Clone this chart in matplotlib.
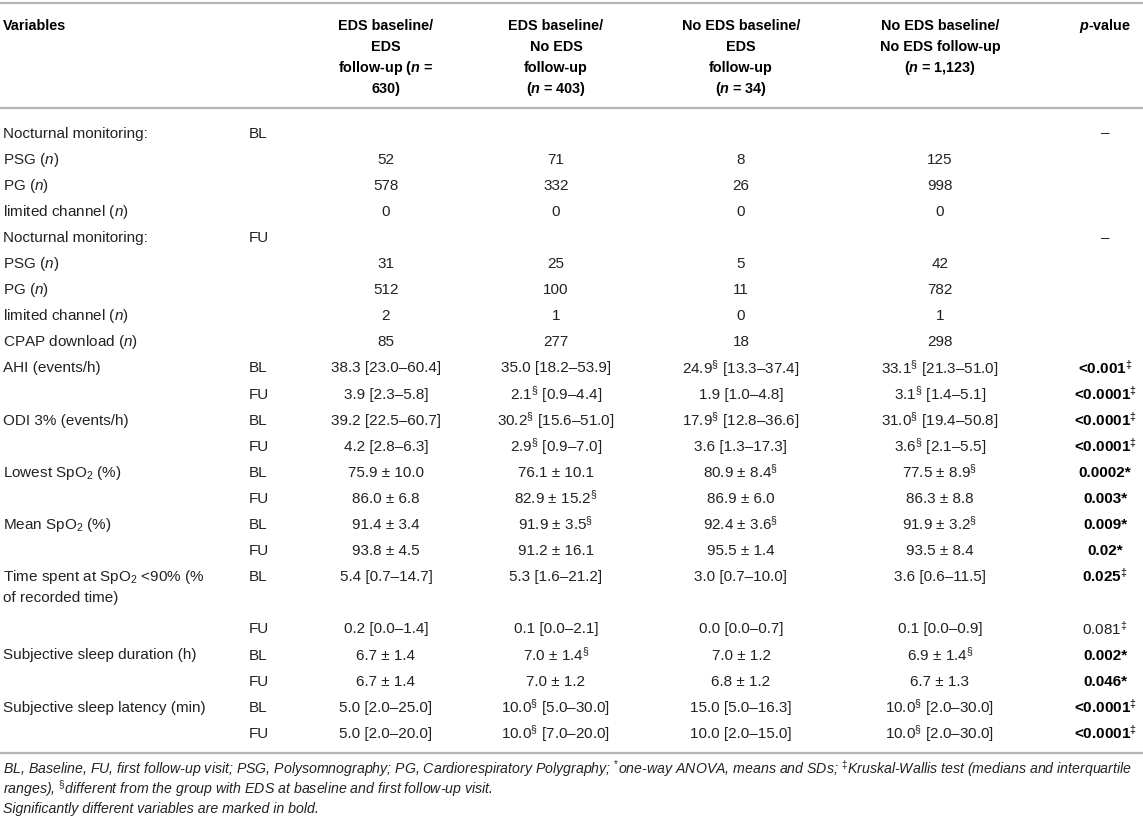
import matplotlib.pyplot as plt

plt.rcParams['font.family'] = ['Liberation Sans', 'DejaVu Sans']
plt.rcParams['mathtext.fontset'] = 'custom'
plt.rcParams['mathtext.rm'] = 'Liberation Sans'
plt.rcParams['mathtext.it'] = 'Liberation Sans:italic'
plt.rcParams['mathtext.bf'] = 'Liberation Sans:bold'
plt.rcParams['mathtext.bfit'] = 'Liberation Sans:italic:bold'

# --- table content ---
headers = [
    ["EDS baseline/", "EDS", r"follow-up ($\mathbfit{n}$ =", "630)"],
    ["EDS baseline/", "No EDS", "follow-up", r"($\mathbfit{n}$ = 403)"],
    ["No EDS baseline/", "EDS", "follow-up", r"($\mathbfit{n}$ = 34)"],
    ["No EDS baseline/", "No EDS follow-up", r"($\mathbfit{n}$ = 1,123)"],
]

variables = [
    "Nocturnal monitoring:", r"PSG ($n$)", r"PG ($n$)", r"limited channel ($n$)",
    "Nocturnal monitoring:", r"PSG ($n$)", r"PG ($n$)", r"limited channel ($n$)",
    r"CPAP download ($n$)",
    "AHI (events/h)", "",
    "ODI 3% (events/h)", "",
    r"Lowest SpO$_2$ (%)", "",
    r"Mean SpO$_2$ (%)", "",
    r"Time spent at SpO$_2$ <90% (%" + "\n" + "of recorded time)", "",
    "Subjective sleep duration (h)", "",
    "Subjective sleep latency (min)", "",
]

visit = ["BL", "", "", "", "FU", "", "", "", "",
         "BL", "FU", "BL", "FU", "BL", "FU", "BL", "FU", "BL", "FU",
         "BL", "FU", "BL", "FU"]

eds_eds = ["", "52", "578", "0", "", "31", "512", "2", "85",
           "38.3 [23.0–60.4]", "3.9 [2.3–5.8]",
           "39.2 [22.5–60.7]", "4.2 [2.8–6.3]",
           "75.9 ± 10.0", "86.0 ± 6.8",
           "91.4 ± 3.4", "93.8 ± 4.5",
           "5.4 [0.7–14.7]", "0.2 [0.0–1.4]",
           "6.7 ± 1.4", "6.7 ± 1.4",
           "5.0 [2.0–25.0]", "5.0 [2.0–20.0]"]

eds_noeds = ["", "71", "332", "0", "", "25", "100", "1", "277",
             "35.0 [18.2–53.9]", "2.1§ [0.9–4.4]",
             "30.2§ [15.6–51.0]", "2.9§ [0.9–7.0]",
             "76.1 ± 10.1", "82.9 ± 15.2§",
             "91.9 ± 3.5§", "91.2 ± 16.1",
             "5.3 [1.6–21.2]", "0.1 [0.0–2.1]",
             "7.0 ± 1.4§", "7.0 ± 1.2",
             "10.0§ [5.0–30.0]", "10.0§ [7.0–20.0]"]

noeds_eds = ["", "8", "26", "0", "", "5", "11", "0", "18",
             "24.9§ [13.3–37.4]", "1.9 [1.0–4.8]",
             "17.9§ [12.8–36.6]", "3.6 [1.3–17.3]",
             "80.9 ± 8.4§", "86.9 ± 6.0",
             "92.4 ± 3.6§", "95.5 ± 1.4",
             "3.0 [0.7–10.0]", "0.0 [0.0–0.7]",
             "7.0 ± 1.2", "6.8 ± 1.2",
             "15.0 [5.0–16.3]", "10.0 [2.0–15.0]"]

noeds_noeds = ["", "125", "998", "0", "", "42", "782", "1", "298",
               "33.1§ [21.3–51.0]", "3.1§ [1.4–5.1]",
               "31.0§ [19.4–50.8]", "3.6§ [2.1–5.5]",
               "77.5 ± 8.9§", "86.3 ± 8.8",
               "91.9 ± 3.2§", "93.5 ± 8.4",
               "3.6 [0.6–11.5]", "0.1 [0.0–0.9]",
               "6.9 ± 1.4§", "6.7 ± 1.3",
               "10.0§ [2.0–30.0]", "10.0§ [2.0–30.0]"]

p_values = ["–", "", "", "", "–", "", "", "", "",
            "<0.001‡", "<0.0001‡", "<0.0001‡", "<0.0001‡",
            "0.0002*", "0.003*", "0.009*", "0.02*",
            "0.025‡", "0.081‡", "0.002*", "0.046*",
            "<0.0001‡", "<0.0001‡"]
p_bold = [False] * 9 + [True] * 9 + [False] + [True] * 4

footnotes = [
    "BL, Baseline, FU, first follow-up visit; PSG, Polysomnography; PG, Cardiorespiratory Polygraphy; "
    "$^{*}$one-way ANOVA, means and SDs; $^{‡}$Kruskal-Wallis test (medians and interquartile",
    "ranges), $^{§}$different from the group with EDS at baseline and first follow-up visit.",
    "Significantly different variables are marked in bold.",
]


def sup(s):
    # superscript the footnote marks
    for mark in ["§", "‡"]:
        s = s.replace(mark, "$^{" + mark + "}$")
    return s


# --- layout (pixels) ---
W, H = 1143, 824
col_x = [386, 556, 741, 940]
p_x = 1105
var_x = 3
visit_x = 249
fs = 11.0
fs_hdr = 10.4
txt_col = '#222222'
line_col = '#b5b5b5'

fig = plt.figure(figsize=(W / 100, H / 100), dpi=100)
ax = fig.add_axes([0, 0, 1, 1])
ax.set_xlim(0, W)
ax.set_ylim(H, 0)
ax.axis('off')

for y in [3, 108, 753]:
    ax.plot([0, W], [y, y], color=line_col, lw=1.6, solid_capstyle='butt')

# header
hdr_y = [25, 46, 67, 88]
ax.text(var_x, hdr_y[0] + 5, "Variables", fontsize=fs_hdr, fontweight='bold', color='black',
        ha='left', va='baseline')
for cx, lines in zip(col_x, headers):
    for i, line in enumerate(lines):
        ax.text(cx, hdr_y[i] + 5, line, fontsize=fs_hdr, fontweight='bold', color='black',
                ha='center', va='baseline')
ax.text(p_x, hdr_y[0] + 5, r"$\mathbfit{p}$-value", fontsize=fs_hdr, fontweight='bold',
        color='black', ha='center', va='baseline')

# body rows
pitch = 26.1
slot = 0
groups = [eds_eds, eds_noeds, noeds_eds, noeds_noeds]
for r in range(len(variables)):
    y = 132 + slot * pitch + 5.5
    label_lines = variables[r].split("\n")
    for j, ln in enumerate(label_lines):
        ax.text(var_x, y + j * 21, ln, fontsize=fs, color=txt_col, ha='left', va='baseline')
    ax.text(visit_x, y, visit[r], fontsize=fs, color=txt_col, ha='left', va='baseline')
    for cx, g in zip(col_x, groups):
        if g[r]:
            s = sup(g[r])
            dy = 1 if '$' in s else 0  # mathtext sits a touch high
            ax.text(cx, y + dy, s, fontsize=fs, color=txt_col, ha='center', va='baseline')
    if p_values[r]:
        s = sup(p_values[r])
        dy = 1 if '$' in s else 0
        ax.text(p_x, y + dy, s, fontsize=fs, color='black' if p_bold[r] else txt_col,
                fontweight='bold' if p_bold[r] else 'normal', ha='center', va='baseline')
    slot += len(label_lines)

# footnotes
for i, (fy, note) in enumerate(zip([774, 794, 813], footnotes)):
    ax.text(3, fy, note, fontsize=10.2, style='italic', color=txt_col, ha='left', va='baseline')

fig.savefig('out.png', dpi=100)
